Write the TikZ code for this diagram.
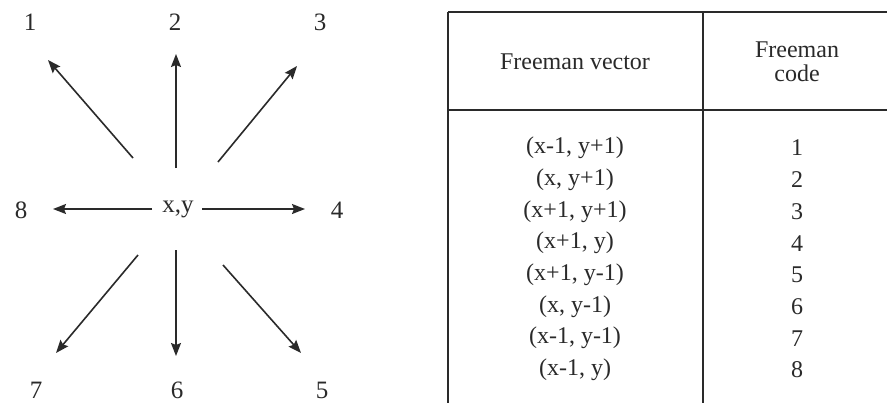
\documentclass[tikz,border=0pt]{standalone}
\usepackage{fontspec}
\setmainfont{Liberation Serif}
\usetikzlibrary{arrows.meta}
\definecolor{ink}{HTML}{2A2A2A}
\tikzset{
  lbl/.style={text=ink, font=\fontsize{25}{27}\selectfont, inner sep=0pt, anchor=center},
  cell/.style={text=ink, font=\fontsize{24}{26}\selectfont, inner sep=0pt, anchor=center},
  vec/.style={draw=ink, line width=1.6pt, -{Stealth[length=13pt,width=10pt,inset=2pt]}},
  rule/.style={draw=ink, line width=2pt}
}
\begin{document}
\begin{tikzpicture}[x=1pt,y=-1pt]
\useasboundingbox (0,0) rectangle (887,402);
\fill[white] (0,0) rectangle (887,402);
% centre and direction labels
\node[lbl] (c) at (178,209) {x,y};
\node[lbl] (n1) at (30,22) {1};
\node[lbl] (n2) at (175,22) {2};
\node[lbl] (n3) at (320,22) {3};
\node[lbl] (n4) at (337,210) {4};
\node[lbl] (n5) at (322,390) {5};
\node[lbl] (n6) at (177,390) {6};
\node[lbl] (n7) at (36,390) {7};
\node[lbl] (n8) at (21,210) {8};
% arrow start/end points
\coordinate (s1) at (133,158); \coordinate (e1) at (48,60);
\coordinate (s2) at (176,168); \coordinate (e2) at (176,54);
\coordinate (s3) at (218,162); \coordinate (e3) at (297,66);
\coordinate (s4) at (202,209); \coordinate (e4) at (305,209);
\coordinate (s5) at (223,265); \coordinate (e5) at (301,353);
\coordinate (s6) at (176,250); \coordinate (e6) at (176,356);
\coordinate (s7) at (138,255); \coordinate (e7) at (56,353);
\coordinate (s8) at (152,209); \coordinate (e8) at (53,209);
\foreach \i in {1,...,8} {\draw[vec] (s\i) -- (e\i);}
% table
\coordinate (tl) at (448,12);
\coordinate (tm) at (703,12);
\coordinate (tr) at (892,12);
\coordinate (hl) at (448,110);
\coordinate (hr) at (892,110);
\coordinate (bl) at (448,406);
\coordinate (bm) at (703,406);
\coordinate (br) at (892,406);
\draw[rule] (tl) -- (tr);
\draw[rule] (hl) -- (hr);
\draw[rule] (tl) -- (bl);
\draw[rule] (tm) -- (bm);
\draw[rule] (tr) -- (br);
\draw[rule] (bl) -- (br);
\node[cell] (h1) at (575,62) {Freeman vector};
\node[cell, align=center, font=\fontsize{24}{24}\selectfont] (h2) at (797,62) {Freeman\\code};
\foreach \v [count=\k] in {{(x-1, y+1)},{(x, y+1)},{(x+1, y+1)},{(x+1, y)},{(x+1, y-1)},{(x, y-1)},{(x-1, y-1)},{(x-1, y)}} {
  \node[cell] (v\k) at (575,{148+31.7*(\k-1)}) {\v};
  \node[cell] (k\k) at (797,{148+31.7*(\k-1)}) {\k};
}
\end{tikzpicture}
\end{document}
